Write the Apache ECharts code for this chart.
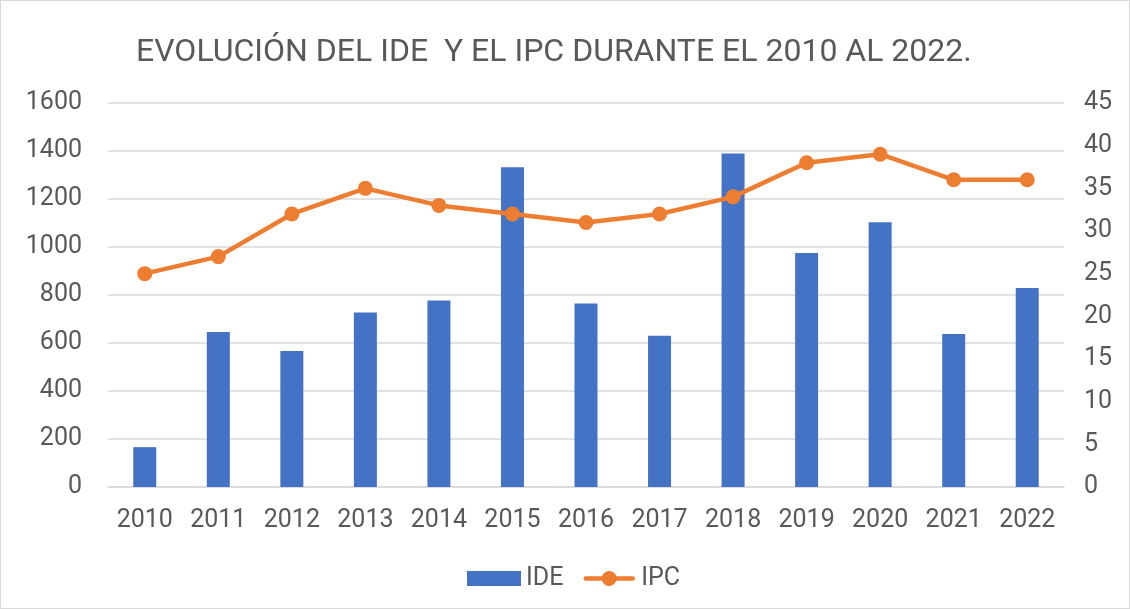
<!DOCTYPE html>
<html>
<head>
<meta charset="utf-8">
<script src="https://cdn.jsdelivr.net/npm/echarts@6/dist/echarts.min.js"></script>
<style>
  html, body { margin: 0; padding: 0; background: #fff; }
  #chart { width: 1128px; height: 607px; border: 1px solid #d9d9d9; }
</style>
</head>
<body>
<div id="chart"></div>
<script>
const years = ["2010", "2011", "2012", "2013", "2014", "2015", "2016", "2017", "2018", "2019", "2020", "2021", "2022"];
const ide = [166, 646, 567, 727, 777, 1332, 765, 630, 1390, 975, 1103, 638, 829];
const ipc = [25, 27, 32, 35, 33, 32, 31, 32, 34, 38, 39, 36, 36];

const chart = echarts.init(document.getElementById("chart"));
const labelColor = "#595959";
// legend icon: thick line with a dot in the middle
const lineDotIcon = "path://M3,5.5 H53 A2.5,2.5 0 0,1 53,10.5 H3 A2.5,2.5 0 0,1 3,5.5 Z M20,8 A8,8 0 1,1 36,8 A8,8 0 1,1 20,8 Z";

chart.setOption({
  animation: false,
  textStyle: { fontFamily: "Roboto" },
  title: {
    text: "EVOLUCIÓN DEL IDE  Y EL IPC DURANTE EL 2010 AL 2022.",
    left: 130,
    top: 31,
    textStyle: { color: labelColor, fontSize: 32, fontWeight: "normal", fontFamily: "Roboto" },
  },
  grid: { left: 107, right: 65, top: 102, bottom: 121 },
  legend: {
    top: 560,
    left: 461,
    itemWidth: 54,
    itemHeight: 15,
    itemGap: 20,
    textStyle: { color: labelColor, fontSize: 25 },
    data: [
      { name: "IDE", icon: "rect" },
      { name: "IPC", icon: lineDotIcon },
    ],
  },
  xAxis: {
    type: "category",
    data: years,
    axisLine: { lineStyle: { color: "#d9d9d9", width: 1.5 } },
    axisTick: { show: false },
    axisLabel: { color: labelColor, fontSize: 25, margin: 21 },
  },
  yAxis: [
    {
      type: "value",
      min: 0,
      max: 1600,
      interval: 200,
      axisLine: { show: false },
      axisTick: { show: false },
      axisLabel: { color: labelColor, fontSize: 25, margin: 26, formatter: (v) => String(v) },
      splitLine: { lineStyle: { color: "#d9d9d9", width: 1.5 } },
    },
    {
      type: "value",
      min: 0,
      max: 45,
      interval: 5,
      axisLine: { show: false },
      axisTick: { show: false },
      axisLabel: { color: labelColor, fontSize: 25, margin: 20 },
      splitLine: { show: false },
    },
  ],
  series: [
    {
      name: "IDE",
      type: "bar",
      data: ide,
      barWidth: 23,
      itemStyle: { color: "#4472c4" },
    },
    {
      name: "IPC",
      type: "line",
      yAxisIndex: 1,
      data: ipc,
      symbol: "circle",
      symbolSize: 15,
      lineStyle: { color: "#ed7d31", width: 4.5 },
      itemStyle: { color: "#ed7d31" },
    },
  ],
});
</script>
</body>
</html>
